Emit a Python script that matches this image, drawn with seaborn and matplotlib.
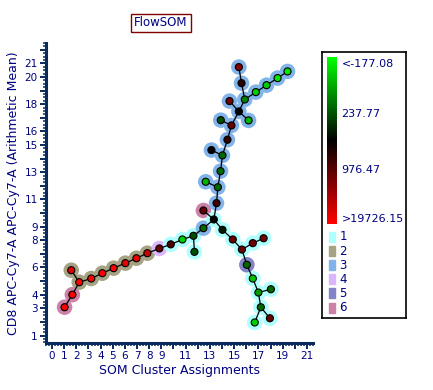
import numpy as np
import pandas as pd
import matplotlib
matplotlib.use("Agg")
import matplotlib.pyplot as plt
import seaborn as sns
from matplotlib.colors import LinearSegmentedColormap
from matplotlib.patches import Rectangle
from matplotlib.ticker import MultipleLocator

# SOM node positions (MST layout), metacluster and CD8 colour level (0 = green, 1 = red)
node_x = [1.03, 1.67, 1.58, 2.24, 3.23, 4.14, 5.07, 6.04, 6.95, 7.85, 8.84, 9.78, 10.74, 11.65, 11.73,
          12.47, 12.47, 13.33, 13.55, 13.66, 12.66, 14.04, 14.89, 15.64, 16.54, 17.43, 16.05, 16.54,
          17.0, 18.03, 17.2, 17.95, 16.7,
          13.88, 14.04, 13.13, 14.45, 14.78, 13.9, 16.19, 15.39, 14.62, 15.88, 15.61, 15.39, 16.79,
          17.67, 18.58, 19.4]
node_y = [3.08, 4.0, 5.8, 4.92, 5.19, 5.58, 5.95, 6.32, 6.68, 7.05, 7.4, 7.7, 8.06, 8.33, 7.15,
          8.89, 10.19, 9.53, 10.73, 11.9, 12.3, 8.77, 8.06, 7.32, 7.79, 8.15, 6.2, 5.19,
          4.16, 4.4, 3.08, 2.27, 1.96,
          13.08, 14.24, 14.63, 15.39, 16.44, 16.83, 16.81, 17.47, 18.23, 18.35, 19.55, 20.73, 18.89,
          19.4, 19.92, 20.41]
cluster = [6, 6, 2, 2, 2, 2, 2, 2, 2, 2, 4, 1, 1, 1, 1,
           3, 6, 1, 3, 3, 3, 1, 1, 1, 1, 1, 5, 1,
           1, 1, 1, 1, 1,
           3, 3, 3, 3, 3, 3, 3, 3, 3, 3, 3, 3, 3,
           3, 3, 3]
level = [1.0, 1.0, 0.95, 1.0, 1.0, 1.0, 1.0, 0.95, 0.95, 0.9, 0.7, 0.65, 0.1, 0.35, 0.35,
         0.3, 0.7, 0.5, 0.62, 0.3, 0.15, 0.45, 0.7, 0.7, 0.72, 0.72, 0.3, 0.12,
         0.2, 0.3, 0.3, 0.7, 0.1,
         0.3, 0.3, 0.5, 0.6, 0.7, 0.35, 0.15, 0.5, 0.72, 0.25, 0.58, 0.75, 0.1,
         0.1, 0.05, 0.05]
edges = [(0, 1), (1, 3), (2, 3), (3, 4), (4, 5), (5, 6), (6, 7), (7, 8), (8, 9), (9, 10), (10, 11),
         (11, 12), (12, 13), (13, 14), (13, 15), (15, 17), (16, 17), (17, 18), (18, 19), (19, 20),
         (19, 33), (17, 21), (21, 22), (22, 23), (23, 24), (24, 25), (23, 26), (26, 27), (27, 28),
         (28, 29), (28, 30), (30, 31), (30, 32), (33, 34), (34, 35), (34, 36), (36, 37), (37, 38),
         (37, 40), (39, 40), (40, 42), (40, 41), (42, 43), (43, 44), (42, 45), (45, 46), (46, 47),
         (47, 48)]

cluster_names = ["1", "2", "3", "4", "5", "6"]
cluster_colors = ["#b0ffff", "#a6a385", "#82b4ea", "#dbb6fb", "#8383c6", "#cc82a6"]
cbar_labels = ["<-177.08", "237.77", "976.47", ">19726.15"]
x_labels = ["0", "1", "2", "3", "4", "5", "6", "7", "8", "9", "", "11", "", "13", "", "15", "",
            "17", "", "19", "", "21"]
y_labels = ["", "1", "", "3", "4", "", "6", "", "8", "9", "", "11", "", "13", "", "15", "16",
            "", "18", "", "20", "21", ""]

navy = "#000080"
spine_col = "#0b2a5c"

df = pd.DataFrame({"x": node_x, "y": node_y, "cluster": [str(c) for c in cluster], "level": level})
cmap = LinearSegmentedColormap.from_list("gkr", ["#00ff00", "#000000", "#ff0000"])

plt.rcParams["font.family"] = ["DejaVu Sans"]
fig = plt.figure(figsize=(4.33, 3.9), dpi=100)
ax = fig.add_axes([46 / 433, 47 / 390, 267 / 433, 300 / 390])

# halos = metacluster
sns.scatterplot(data=df, x="x", y="y", hue="cluster", hue_order=cluster_names,
                palette=cluster_colors, s=125, linewidth=0, legend=False, ax=ax, zorder=1)
for i, j in edges:
    ax.plot([node_x[i], node_x[j]], [node_y[i], node_y[j]], color="black", lw=0.9, zorder=2)
ax.scatter(df["x"], df["y"], c=cmap(df["level"]), s=26, edgecolors="black", linewidths=0.8,
           marker="o", zorder=3)

ax.set_xticks(range(len(x_labels)))
ax.set_xticklabels(x_labels)
ax.set_yticks(range(len(y_labels)))
ax.set_yticklabels(y_labels)
ax.xaxis.set_minor_locator(MultipleLocator(0.25))
ax.yaxis.set_minor_locator(MultipleLocator(0.25))
ax.set_xlim(-0.5, 21.5)
ax.set_ylim(0.45, 22.5)
for s in ["top", "right"]:
    ax.spines[s].set_visible(False)
for s in ["left", "bottom"]:
    ax.spines[s].set_color(spine_col)
    ax.spines[s].set_linewidth(2.2)
ax.tick_params(which="major", length=4, width=1.4, color=spine_col, labelcolor=navy,
               labelsize=7.5, pad=2)
ax.tick_params(which="minor", length=2, width=1.1, color=spine_col)
ax.set_xlabel("SOM Cluster Assignments", color=navy, fontsize=9, labelpad=2)
ax.set_ylabel("CD8 APC-Cy7-A APC-Cy7-A (Arithmetic Mean)", color=navy, fontsize=9, labelpad=3)

fig.text(161 / 433, 1 - 23 / 390, "FlowSOM", ha="center", va="center", color=navy, fontsize=8.5,
         bbox=dict(boxstyle="square,pad=0.25", fc="white", ec="#800000", lw=1))

# colour scale + metacluster legend panel (pixel units inside the box)
lg = fig.add_axes([322 / 433, 72 / 390, 84 / 433, 266 / 390])
lg.set_xlim(0, 84)
lg.set_ylim(266, 0)
lg.set_xticks([])
lg.set_yticks([])
for s in lg.spines.values():
    s.set_color("black")
    s.set_linewidth(1.2)
grad = np.linspace(0, 1, 200).reshape(-1, 1)
lg.imshow(grad, cmap=cmap, extent=(5.3, 15.3, 172.3, 5.3), aspect="auto")
for lab, yy in zip(cbar_labels, [12.3, 62.3, 118.3, 167.3]):
    lg.text(19.5, yy, lab, color=navy, fontsize=8, va="center", ha="left")
for k, (name, col) in enumerate(zip(cluster_names, cluster_colors)):
    yy = 185 + 14.1 * k
    lg.add_patch(Rectangle((7.3, yy - 5), 6, 10, color=col))
    lg.text(17.5, yy, name, color=navy, fontsize=8.5, va="center", ha="left")

fig.savefig("out.png", dpi=100)
